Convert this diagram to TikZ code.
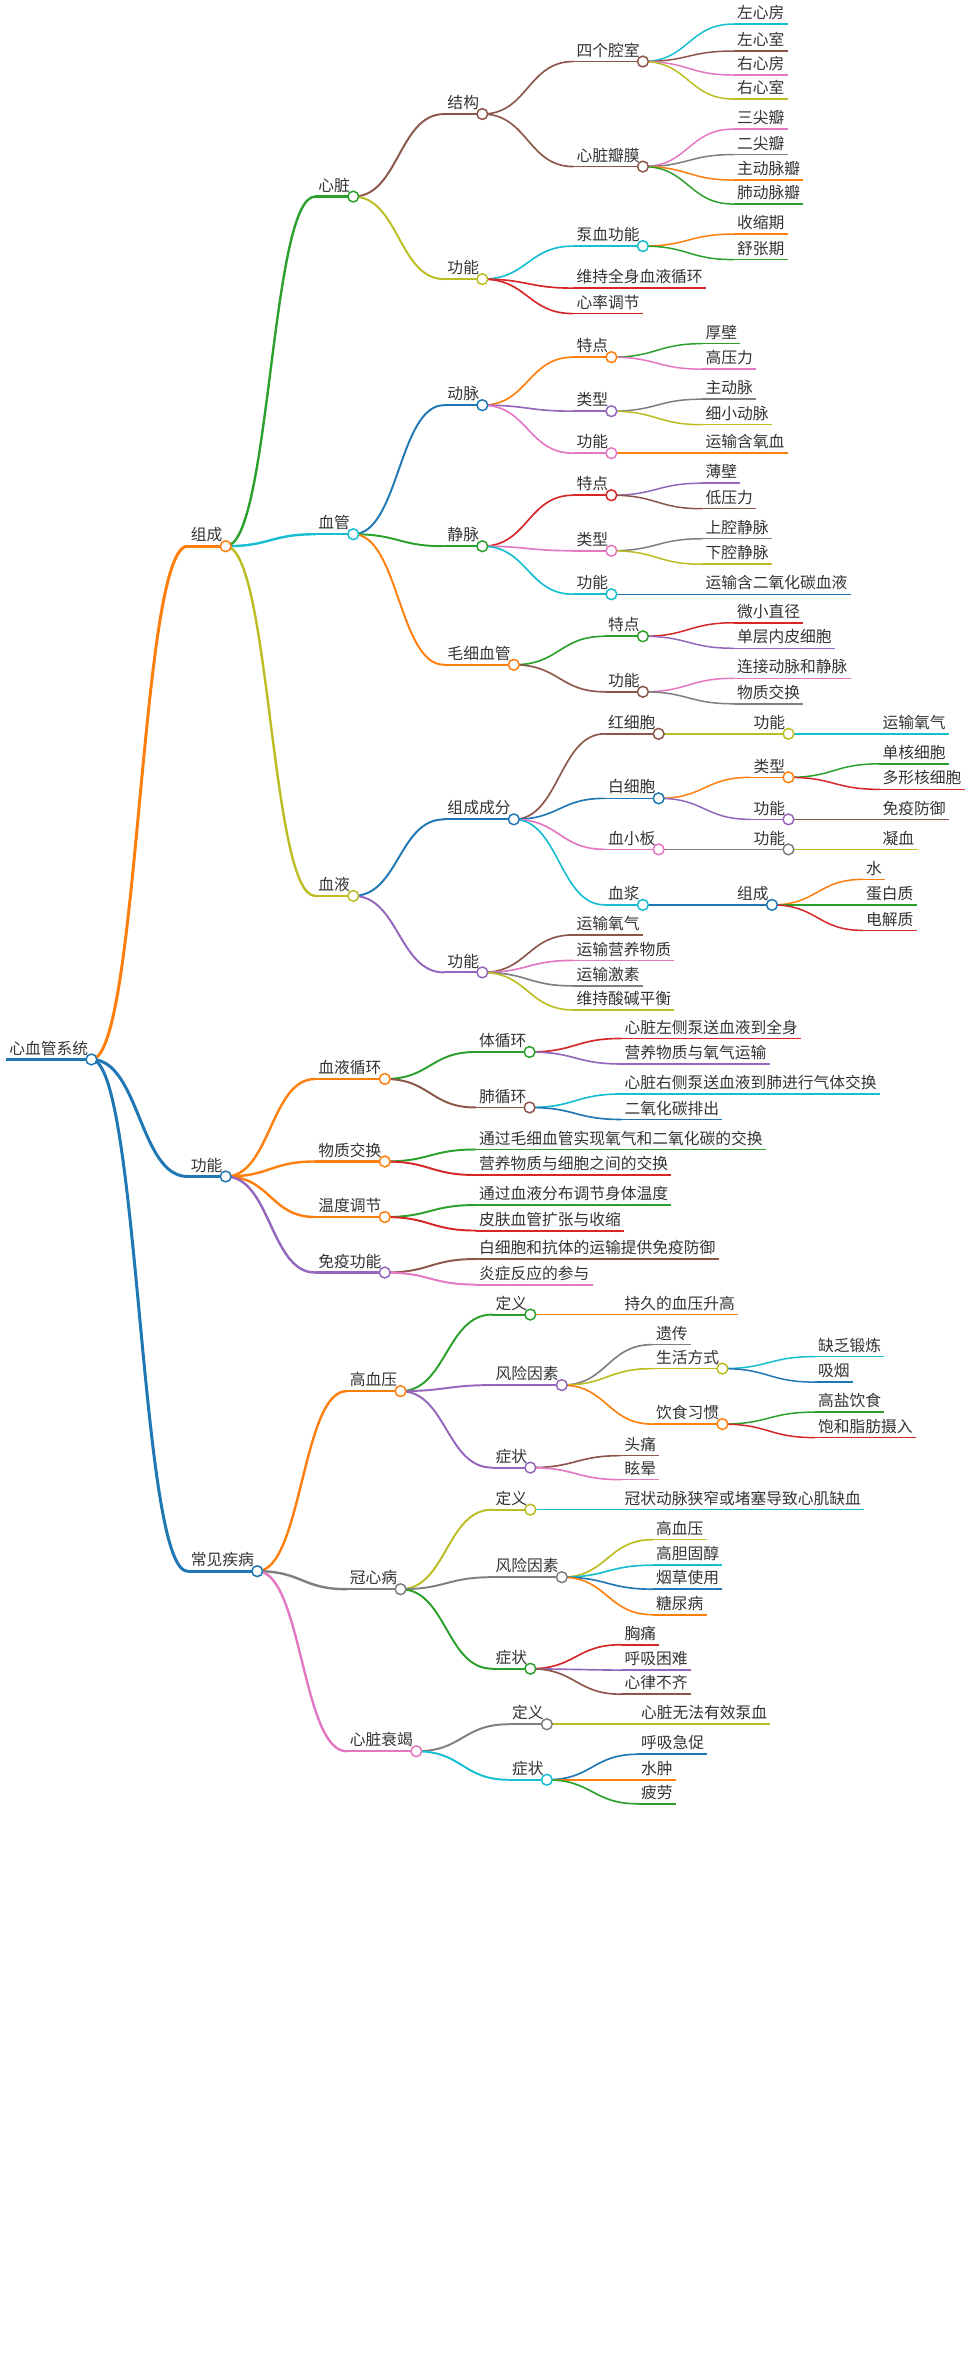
\documentclass[tikz,border=0pt]{standalone}
\usepackage{fontspec}
\newfontfamily\cjk{Noto Sans CJK SC}
\usetikzlibrary{calc}
\definecolor{mblue}{HTML}{1F77B4}
\definecolor{morange}{HTML}{FF7F0E}
\definecolor{mgreen}{HTML}{2CA02C}
\definecolor{mred}{HTML}{D62728}
\definecolor{mpurple}{HTML}{9467BD}
\definecolor{mbrown}{HTML}{8C564B}
\definecolor{mpink}{HTML}{E377C2}
\definecolor{mgray}{HTML}{7F7F7F}
\definecolor{molive}{HTML}{BCBD22}
\definecolor{mcyan}{HTML}{17BECF}
\definecolor{mtext}{HTML}{333333}
\tikzset{
  mmtext/.style={font=\cjk\fontsize{10.5}{12}\selectfont, text=mtext,
    inner xsep=2pt, inner ysep=2.5pt},
  d0/.style={line width=2.6pt},
  d1/.style={line width=2pt},
  d2/.style={line width=1.6pt},
  d3/.style={line width=1.3pt},
  d4/.style={line width=1.1pt},
  d5/.style={line width=1pt},
}
% parent, name, x, y, colour, depth, text
\newcommand\mm[7]{%
  \node[mmtext,anchor=south west] (#2) at (#3,#4) {#7};
  \draw[#5,#6] (#2.south west) -- (#2.south east);
  \draw[#5,#6,line cap=round] let \p1=(#1.south east), \p2=(#2.south west) in
    (\p1) .. controls ({(\x1+\x2)/2},\y1) and ({(\x1+\x2)/2},\y2) .. (\p2);
}
\begin{document}
\begin{tikzpicture}[x=1pt,y=-1pt]
\useasboundingbox (0,0) rectangle (652,1568);
% root
\node[mmtext,anchor=south west] (root) at (4,706) {心血管系统};
\draw[mblue,d0] (root.south west) -- (root.south east);
% 组成
\mm{root}{zc}{125}{364}{morange}{d1}{组成}
\mm{zc}{xz}{210}{131}{mgreen}{d2}{心脏}
\mm{xz}{jg}{296}{76}{mbrown}{d3}{结构}
\mm{jg}{qs}{382}{41}{mbrown}{d4}{四个腔室}
\mm{qs}{l1}{489}{16}{mcyan}{d5}{左心房}
\mm{qs}{l2}{489}{34}{mbrown}{d5}{左心室}
\mm{qs}{l3}{489}{50}{mpink}{d5}{右心房}
\mm{qs}{l4}{489}{66}{molive}{d5}{右心室}
\mm{jg}{bm}{382}{111}{mbrown}{d4}{心脏瓣膜}
\mm{bm}{b1}{489}{86}{mpink}{d5}{三尖瓣}
\mm{bm}{b2}{489}{103}{mgray}{d5}{二尖瓣}
\mm{bm}{b3}{489}{120}{morange}{d5}{主动脉瓣}
\mm{bm}{b4}{489}{136}{mgreen}{d5}{肺动脉瓣}
\mm{xz}{xgn}{296}{186}{molive}{d3}{功能}
\mm{xgn}{bx}{382}{164}{mcyan}{d4}{泵血功能}
\mm{bx}{bx1}{489}{156}{morange}{d5}{收缩期}
\mm{bx}{bx2}{489}{173}{mgreen}{d5}{舒张期}
\mm{xgn}{wc}{382}{192}{mred}{d4}{维持全身血液循环}
\mm{xgn}{xl}{382}{209}{mred}{d4}{心率调节}
\mm{zc}{xg}{210}{356}{mcyan}{d2}{血管}
\mm{xg}{dm}{296}{270}{mblue}{d3}{动脉}
\mm{dm}{dtd}{382}{238}{morange}{d4}{特点}
\mm{dtd}{dt1}{468}{229}{mgreen}{d5}{厚壁}
\mm{dtd}{dt2}{468}{246}{mpink}{d5}{高压力}
\mm{dm}{dlx}{382}{274}{mpurple}{d4}{类型}
\mm{dlx}{dl1}{468}{266}{mgray}{d5}{主动脉}
\mm{dlx}{dl2}{468}{283}{molive}{d5}{细小动脉}
\mm{dm}{dgn}{382}{302}{mpink}{d4}{功能}
\mm{dgn}{dg1}{468}{302}{morange}{d5}{运输含氧血}
\mm{xg}{jm}{296}{364}{mgreen}{d3}{静脉}
\mm{jm}{jtd}{382}{330}{mred}{d4}{特点}
\mm{jtd}{jt1}{468}{322}{mpurple}{d5}{薄壁}
\mm{jtd}{jt2}{468}{339}{mbrown}{d5}{低压力}
\mm{jm}{jlx}{382}{367}{mpink}{d4}{类型}
\mm{jlx}{jl1}{468}{359}{mgray}{d5}{上腔静脉}
\mm{jlx}{jl2}{468}{376}{molive}{d5}{下腔静脉}
\mm{jm}{jgn}{382}{396}{mcyan}{d4}{功能}
\mm{jgn}{jg1}{468}{396}{mblue}{d5}{运输含二氧化碳血液}
\mm{xg}{mx}{296}{443}{morange}{d3}{毛细血管}
\mm{mx}{mtd}{403}{424}{mgreen}{d4}{特点}
\mm{mtd}{mt1}{489}{415}{mred}{d5}{微小直径}
\mm{mtd}{mt2}{489}{432}{mpurple}{d5}{单层内皮细胞}
\mm{mx}{mgn}{403}{461}{mbrown}{d4}{功能}
\mm{mgn}{mg1}{489}{452}{mpink}{d5}{连接动脉和静脉}
\mm{mgn}{mg2}{489}{469}{mgray}{d5}{物质交换}
\mm{zc}{xy}{210}{597}{molive}{d2}{血液}
\mm{xy}{cf}{296}{546}{mblue}{d3}{组成成分}
\mm{cf}{hx}{403}{489}{mbrown}{d4}{红细胞}
\mm{hx}{hxg}{500}{489}{molive}{d5}{功能}
\mm{hxg}{hxg1}{586}{489}{mcyan}{d5}{运输氧气}
\mm{cf}{bxb}{403}{532}{mblue}{d4}{白细胞}
\mm{bxb}{bxl}{500}{518}{morange}{d5}{类型}
\mm{bxl}{bxl1}{586}{509}{mgreen}{d5}{单核细胞}
\mm{bxl}{bxl2}{586}{526}{mred}{d5}{多形核细胞}
\mm{bxb}{bxg}{500}{546}{mpurple}{d5}{功能}
\mm{bxg}{bxg1}{586}{546}{mbrown}{d5}{免疫防御}
\mm{cf}{xxb}{403}{566}{mpink}{d4}{血小板}
\mm{xxb}{xxg}{500}{566}{mgray}{d5}{功能}
\mm{xxg}{xxg1}{586}{566}{molive}{d5}{凝血}
\mm{cf}{xj}{403}{603}{mcyan}{d4}{血浆}
\mm{xj}{xjz}{489}{603}{mblue}{d5}{组成}
\mm{xjz}{xj1}{575}{586}{morange}{d5}{水}
\mm{xjz}{xj2}{575}{603}{mgreen}{d5}{蛋白质}
\mm{xjz}{xj3}{575}{620}{mred}{d5}{电解质}
\mm{xy}{ygn}{296}{648}{mpurple}{d3}{功能}
\mm{ygn}{yg1}{382}{623}{mbrown}{d4}{运输氧气}
\mm{ygn}{yg2}{382}{640}{mpink}{d4}{运输营养物质}
\mm{ygn}{yg3}{382}{657}{mgray}{d4}{运输激素}
\mm{ygn}{yg4}{382}{673}{molive}{d4}{维持酸碱平衡}
% 功能
\mm{root}{gn}{125}{784}{mblue}{d1}{功能}
\mm{gn}{xh}{210}{719}{morange}{d2}{血液循环}
\mm{xh}{tx}{317}{701}{mgreen}{d3}{体循环}
\mm{tx}{tx1}{414}{692}{mred}{d4}{心脏左侧泵送血液到全身}
\mm{tx}{tx2}{414}{709}{mpurple}{d4}{营养物质与氧气运输}
\mm{xh}{fx}{317}{738}{mbrown}{d3}{肺循环}
\mm{fx}{fx1}{414}{729}{mcyan}{d4}{心脏右侧泵送血液到肺进行气体交换}
\mm{fx}{fx2}{414}{746}{mblue}{d4}{二氧化碳排出}
\mm{gn}{wz}{210}{774}{morange}{d2}{物质交换}
\mm{wz}{wz1}{317}{766}{mgreen}{d3}{通过毛细血管实现氧气和二氧化碳的交换}
\mm{wz}{wz2}{317}{783}{mred}{d3}{营养物质与细胞之间的交换}
\mm{gn}{wd}{210}{811}{morange}{d2}{温度调节}
\mm{wd}{wd1}{317}{803}{mgreen}{d3}{通过血液分布调节身体温度}
\mm{wd}{wd2}{317}{820}{mred}{d3}{皮肤血管扩张与收缩}
\mm{gn}{my}{210}{848}{mpurple}{d2}{免疫功能}
\mm{my}{my1}{317}{839}{mbrown}{d3}{白细胞和抗体的运输提供免疫防御}
\mm{my}{my2}{317}{856}{mpink}{d3}{炎症反应的参与}
% 常见疾病
\mm{root}{jb}{125}{1047}{mblue}{d1}{常见疾病}
\mm{jb}{gxy}{231}{927}{morange}{d2}{高血压}
\mm{gxy}{gdy}{328}{876}{mgreen}{d3}{定义}
\mm{gdy}{gdy1}{414}{876}{morange}{d4}{持久的血压升高}
\mm{gxy}{gfx}{328}{923}{mpurple}{d3}{风险因素}
\mm{gfx}{gf1}{435}{896}{mgray}{d4}{遗传}
\mm{gfx}{shfs}{435}{912}{molive}{d4}{生活方式}
\mm{shfs}{sh1}{543}{904}{mcyan}{d5}{缺乏锻炼}
\mm{shfs}{sh2}{543}{921}{mblue}{d5}{吸烟}
\mm{gfx}{ysxg}{435}{949}{morange}{d4}{饮食习惯}
\mm{ysxg}{ys1}{543}{941}{mgreen}{d5}{高盐饮食}
\mm{ysxg}{ys2}{543}{958}{mred}{d5}{饱和脂肪摄入}
\mm{gxy}{gzz}{328}{978}{mpurple}{d3}{症状}
\mm{gzz}{gz1}{414}{970}{mbrown}{d4}{头痛}
\mm{gzz}{gz2}{414}{986}{mpink}{d4}{眩晕}
\mm{jb}{gxb}{231}{1059}{mgray}{d2}{冠心病}
\mm{gxb}{kdy}{328}{1006}{molive}{d3}{定义}
\mm{kdy}{kdy1}{414}{1006}{mcyan}{d4}{冠状动脉狭窄或堵塞导致心肌缺血}
\mm{gxb}{kfx}{328}{1051}{mgray}{d3}{风险因素}
\mm{kfx}{kf1}{435}{1026}{molive}{d4}{高血压}
\mm{kfx}{kf2}{435}{1043}{mcyan}{d4}{高胆固醇}
\mm{kfx}{kf3}{435}{1059}{mblue}{d4}{烟草使用}
\mm{kfx}{kf4}{435}{1076}{morange}{d4}{糖尿病}
\mm{gxb}{kzz}{328}{1112}{mgreen}{d3}{症状}
\mm{kzz}{kz1}{414}{1096}{mred}{d4}{胸痛}
\mm{kzz}{kz2}{414}{1113}{mpurple}{d4}{呼吸困难}
\mm{kzz}{kz3}{414}{1129}{mbrown}{d4}{心律不齐}
\mm{jb}{sj}{231}{1167}{mpink}{d2}{心脏衰竭}
\mm{sj}{sdy}{339}{1149}{mgray}{d3}{定义}
\mm{sdy}{sdy1}{425}{1149}{molive}{d4}{心脏无法有效泵血}
\mm{sj}{szz}{339}{1186}{mcyan}{d3}{症状}
\mm{szz}{sz1}{425}{1169}{mblue}{d4}{呼吸急促}
\mm{szz}{sz2}{425}{1186}{morange}{d4}{水肿}
\mm{szz}{sz3}{425}{1202}{mgreen}{d4}{疲劳}
% circles on top
\foreach \n/\c in {root/mblue,zc/morange,xz/mgreen,jg/mbrown,qs/mbrown,bm/mbrown,
    xgn/molive,bx/mcyan,xg/mcyan,dm/mblue,dtd/morange,dlx/mpurple,dgn/mpink,
    jm/mgreen,jtd/mred,jlx/mpink,jgn/mcyan,mx/morange,mtd/mgreen,mgn/mbrown,
    xy/molive,cf/mblue,hx/mbrown,hxg/molive,bxb/mblue,bxl/morange,bxg/mpurple,
    xxb/mpink,xxg/mgray,xj/mcyan,xjz/mblue,ygn/mpurple,
    gn/mblue,xh/morange,tx/mgreen,fx/mbrown,wz/morange,wd/morange,my/mpurple,
    jb/mblue,gxy/morange,gdy/mgreen,gfx/mpurple,shfs/molive,ysxg/morange,gzz/mpurple,
    gxb/mgray,kdy/molive,kfx/mgray,kzz/mgreen,sj/mpink,sdy/mgray,szz/mcyan}
  \draw[\c,line width=1pt,fill=white] (\n.south east) circle (3.6);
\end{tikzpicture}
\end{document}
